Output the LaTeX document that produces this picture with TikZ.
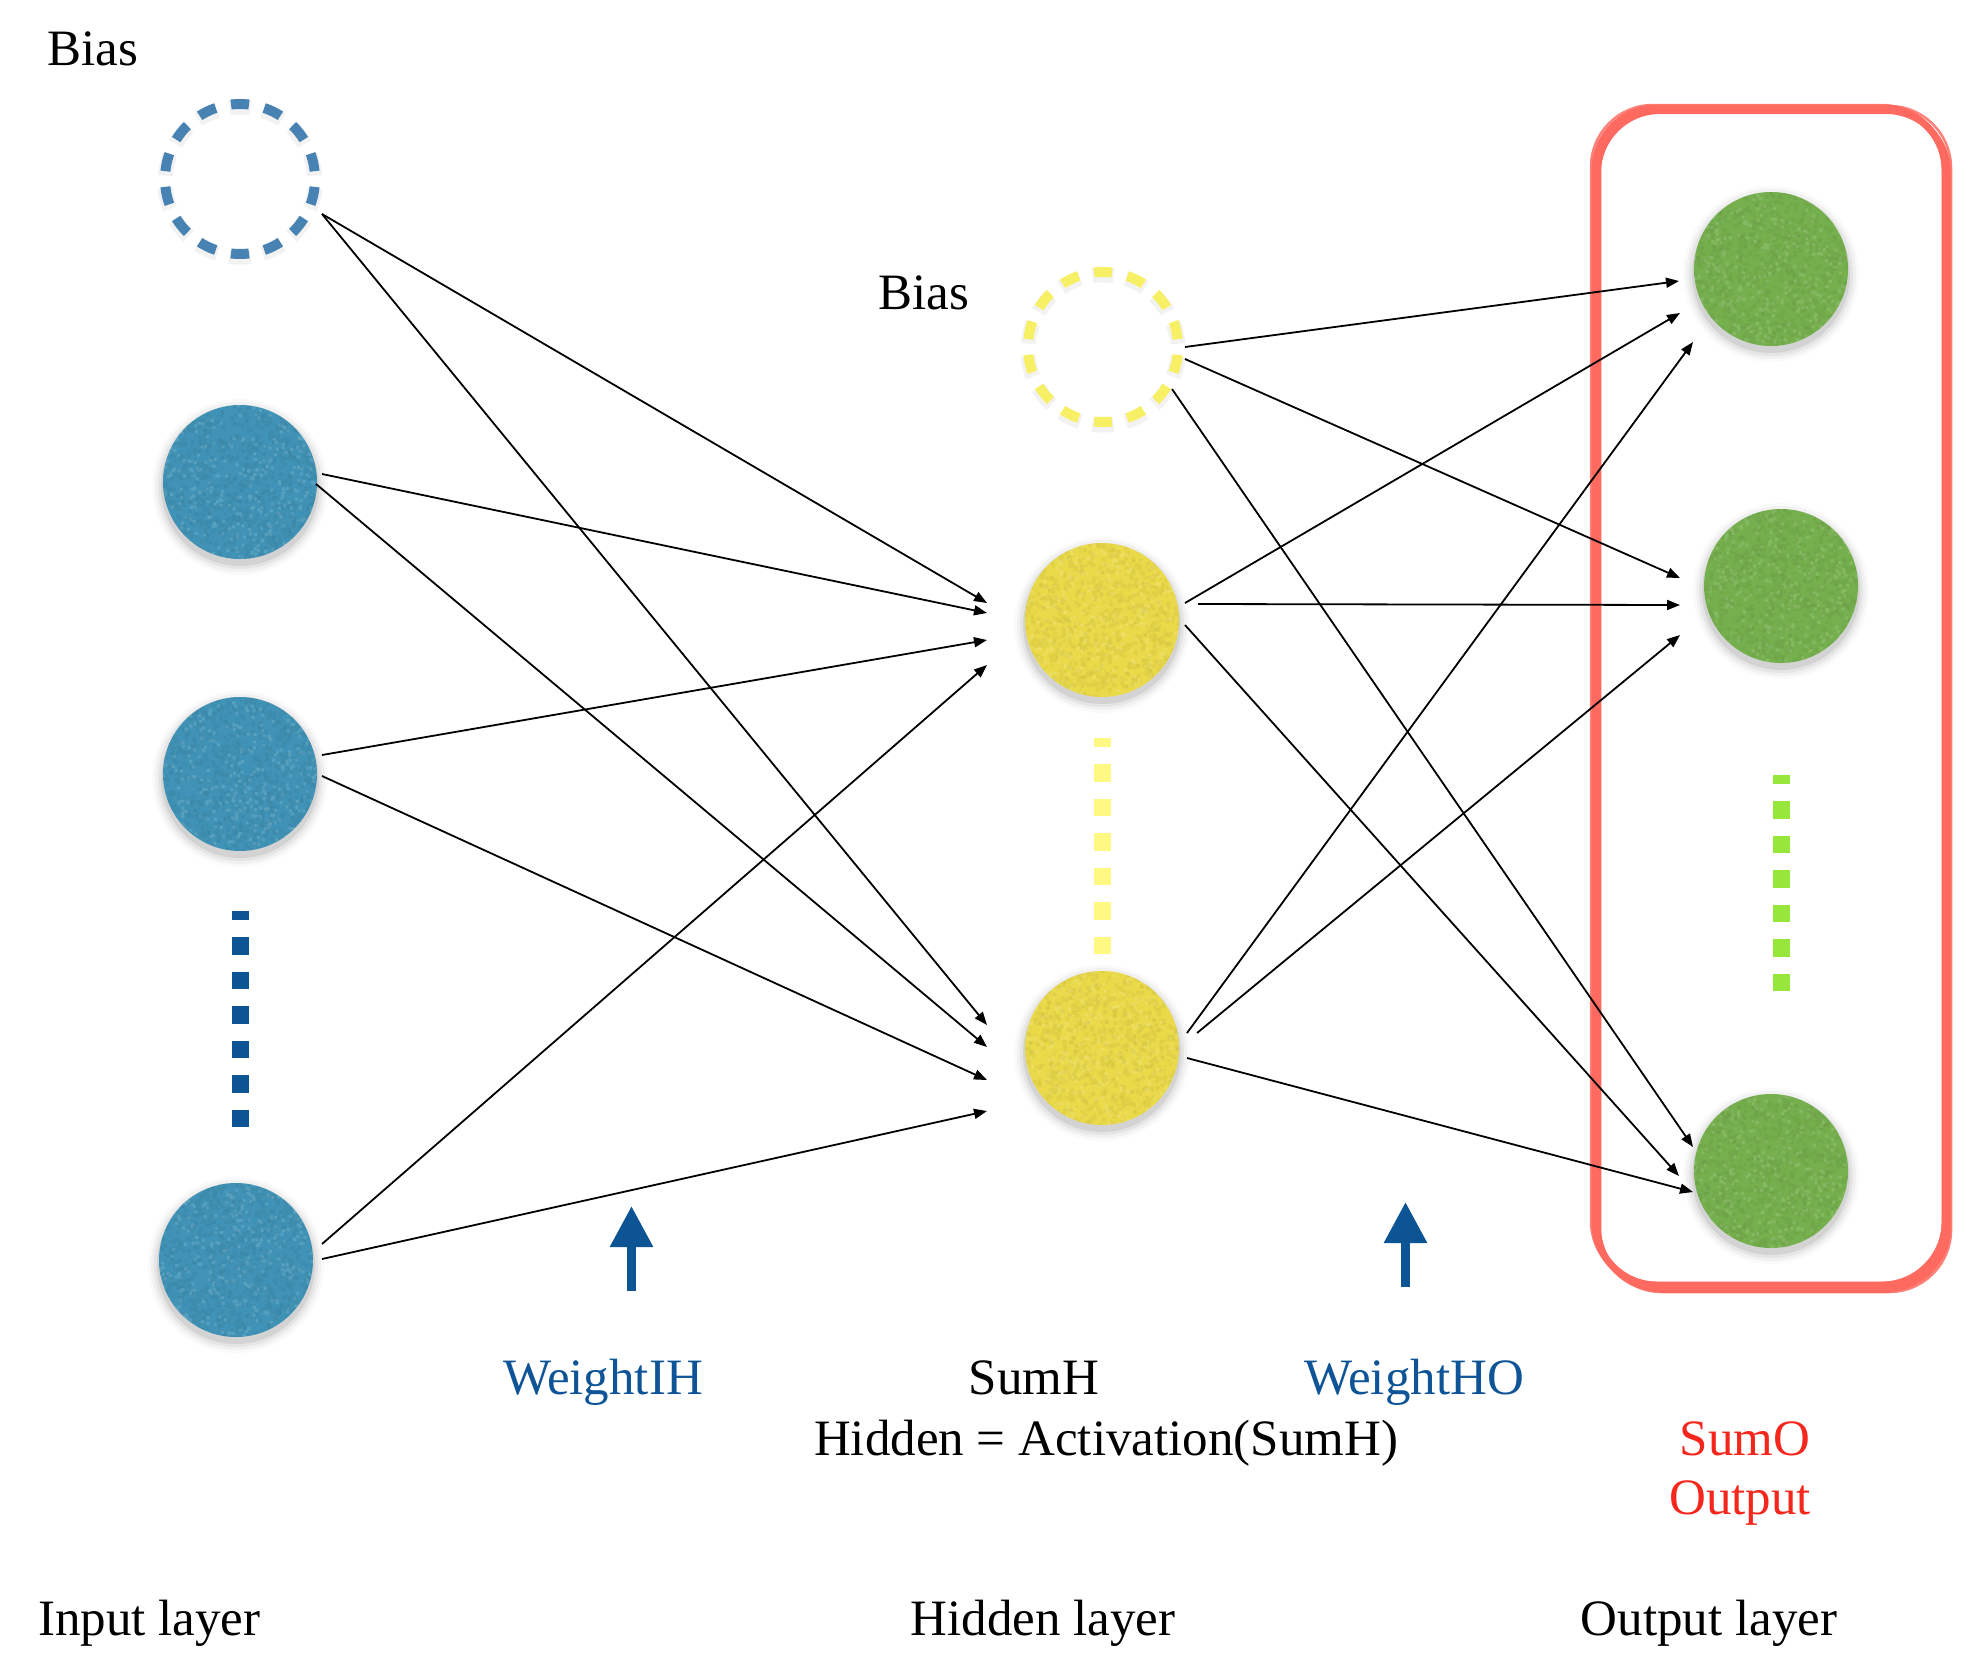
\documentclass[tikz,border=0pt]{standalone}
\usepackage{fontspec}
\setmainfont{Liberation Serif}
\usetikzlibrary{arrows.meta,calc,backgrounds}
\definecolor{inblue}{RGB}{64,147,182}
\definecolor{ringblue}{RGB}{72,130,178}
\definecolor{dotblue}{RGB}{12,84,148}
\definecolor{hidyellow}{RGB}{234,218,74}
\definecolor{ringyellow}{RGB}{248,240,100}
\definecolor{dotyellow}{RGB}{255,248,130}
\definecolor{outgreen}{RGB}{118,176,78}
\definecolor{dotgreen}{RGB}{150,230,60}
\definecolor{boxred}{RGB}{255,106,96}
\definecolor{textred}{RGB}{245,38,28}
\definecolor{textblue}{RGB}{14,84,150}
\begin{document}
\begin{tikzpicture}[x=1pt,y=-1pt,
  neuron/.style={circle,minimum size=154pt,inner sep=0pt,outer sep=0pt,fill=#1},
  biasring/.style={circle,minimum size=150pt,inner sep=0pt,outer sep=0pt,draw=#1,line width=10pt,
     dash pattern=on 18pt off 15.66pt,dash phase=25.83pt},
  wire/.style={line width=1.8pt,-{Triangle[length=13pt,width=10pt]}},
  ellipsis/.style={line width=17pt,dash pattern=on 17.25pt off 17.25pt,dash phase=8.25pt},
  lbl/.style={inner sep=0pt,font=\fontsize{51}{60}\selectfont},
  pointer/.style={draw=dotblue,line width=9pt,-{Triangle[length=41pt,width=41pt]}},
  roughline/.style={boxred,rounded corners=62pt}
]
\useasboundingbox (0,0) rectangle (1980,1662);
\pgfmathsetseed{11}

% frame around the output layer, drawn as several rough strokes
\draw[roughline,line width=7pt] (1595,108) rectangle (1945,1285);
\draw[roughline,line width=6pt] (1598,111) rectangle (1948,1289);
\draw[roughline,line width=2.5pt,opacity=.85] (1591,105) rectangle (1943,1283);
\draw[roughline,line width=2.5pt,opacity=.85] (1600,106) rectangle (1951,1292);
\draw[boxred,line width=4pt] (1949,180) -- (1949,1220);
\draw[boxred,line width=4pt] (1660,1291) -- (1890,1291);

% bias units
\node[biasring=ringblue] (ib) at (240,179) {};
\node[biasring=ringyellow] (hb) at (1103,347) {};

% neurons
\node[neuron=inblue] (in1) at (240,482) {};
\node[neuron=inblue] (in2) at (240,774) {};
\node[neuron=inblue] (in3) at (236,1260) {};
\node[neuron=hidyellow] (h1) at (1102,620) {};
\node[neuron=hidyellow] (h2) at (1102,1048) {};
\node[neuron=outgreen] (o1) at (1771,269) {};
\node[neuron=outgreen] (o2) at (1781,586) {};
\node[neuron=outgreen] (o3) at (1771,1171) {};

% soft shadows below the units
\begin{scope}[on background layer]
  \foreach \n in {in1,in2,in3,h1,h2,o1,o2,o3}{
    \foreach \r/\o in {88/.02,85/.035,82/.05,79/.08}
      \fill[black,opacity=\o] ([yshift=-5pt]\n.center) circle[radius=\r pt];
  }
  \foreach \n in {ib,hb}{
    \draw[black,opacity=.05,line width=15pt,dash pattern=on 21pt off 12.66pt,dash phase=27.33pt]
      ([yshift=-3pt]\n.center) circle[radius=75pt];
  }
\end{scope}

% grainy surface of the units: one path of small flecks per tone
\foreach \n/\c in {in1/inblue,in2/inblue,in3/inblue,h1/hidyellow,h2/hidyellow,o1/outgreen,o2/outgreen,o3/outgreen}{
  \begin{scope}
    \clip (\n.center) circle[radius=77pt];
    \begin{scope}[shift={(\n.center)}]
      \fill[\c!70!black,opacity=.14]
        \foreach \k in {1,...,600}{ (rand*79,rand*79) rectangle ++(4,4) };
      \fill[\c!70!black,opacity=.10]
        \foreach \k in {1,...,400}{ (rand*79,rand*79) rectangle ++(3,3) };
      \fill[white,opacity=.12]
        \foreach \k in {1,...,350}{ (rand*79,rand*79) rectangle ++(3,3) };
    \end{scope}
  \end{scope}
}

% ellipses standing for further units
\draw[ellipsis,dotblue] (240.5,911) -- (240.5,1128);
\draw[ellipsis,dotyellow] (1102.5,738) -- (1102.5,955);
\draw[ellipsis,dotgreen] (1781,775) -- (1781,992);

% input -> hidden weights
\draw[wire] ([shift={(82,35)}]ib.center) -- ([shift={(-115,-17)}]h1.center);
\draw[wire] ([shift={(82,35)}]ib.center) -- ([shift={(-115,-23)}]h2.center);
\draw[wire] ([shift={(82,-8)}]in1.center) -- ([shift={(-115,-7)}]h1.center);
\draw[wire] ([shift={(76,2)}]in1.center) -- ([shift={(-115,-1)}]h2.center);
\draw[wire] ([shift={(82,-19)}]in2.center) -- ([shift={(-115,20)}]h1.center);
\draw[wire] ([shift={(82,2)}]in2.center) -- ([shift={(-115,32)}]h2.center);
\draw[wire] ([shift={(86,-16)}]in3.center) -- ([shift={(-115,45)}]h1.center);
\draw[wire] ([shift={(86,-1)}]in3.center) -- ([shift={(-115,63)}]h2.center);

% hidden -> output weights
\draw[wire] ([shift={(82,0)}]hb.center) -- ([shift={(-92,12)}]o1.center);
\draw[wire] ([shift={(82,12)}]hb.center) -- ([shift={(-101,-8)}]o2.center);
\draw[wire] ([shift={(69,42)}]hb.center) -- ([shift={(-78,-24)}]o3.center);
\draw[wire] ([shift={(83,-17)}]h1.center) -- ([shift={(-91,44)}]o1.center);
\draw[wire] ([shift={(96,-16)}]h1.center) -- ([shift={(-101,19)}]o2.center);
\draw[wire] ([shift={(83,5)}]h1.center) -- ([shift={(-92,5)}]o3.center);
\draw[wire] ([shift={(85,-15)}]h2.center) -- ([shift={(-78,73)}]o1.center);
\draw[wire] ([shift={(95,-15)}]h2.center) -- ([shift={(-101,49)}]o2.center);
\draw[wire] ([shift={(85,10)}]h2.center) -- ([shift={(-78,21)}]o3.center);

% pointers to the weight labels
\coordinate (pih0) at (631.5,1291);
\coordinate (pih1) at (631.5,1206);
\coordinate (pho0) at (1405.5,1287);
\coordinate (pho1) at (1405.5,1202);
\draw[pointer] (pih0) -- (pih1);
\draw[pointer] (pho0) -- (pho1);

% labels
\node[lbl,anchor=base west] (biasin) at (47,66) {Bias};
\node[lbl,anchor=base west] (biashid) at (878,309) {Bias};
\node[lbl,anchor=base,text=textblue] (wih) at (603,1394) {WeightIH};
\node[lbl,anchor=base] (sumh) at (1034,1394) {SumH};
\node[lbl,anchor=base] (act) at (1106,1455) {Hidden = Activation(SumH)};
\node[lbl,anchor=base,text=textblue] (who) at (1414,1394) {WeightHO};
\node[lbl,anchor=base,text=textred] (sumo) at (1745,1455) {SumO};
\node[lbl,anchor=base,text=textred] (outp) at (1740,1514) {Output};
\node[lbl,anchor=base west] (lin) at (38,1635) {Input layer};
\node[lbl,anchor=base] (lhid) at (1043,1635) {Hidden layer};
\node[lbl,anchor=base] (lout) at (1709,1635) {Output layer};
\end{tikzpicture}
\end{document}
